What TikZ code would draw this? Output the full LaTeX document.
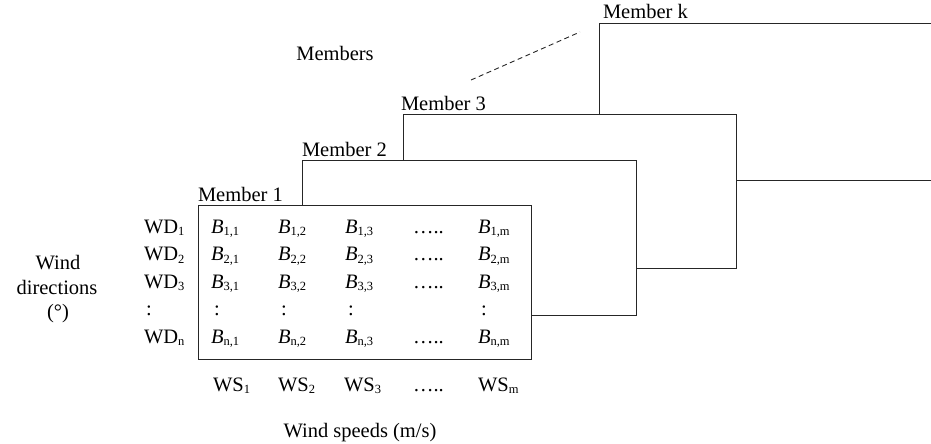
\documentclass[tikz,border=0pt]{standalone}
\usepackage{fontspec}
\setmainfont{Liberation Serif}
\newcommand\sbx[1]{\raisebox{-2.5pt}{\fontsize{12.5}{12.5}\selectfont #1}}
\newcommand\Bij[1]{\textit{B}\sbx{#1}}
\begin{document}
\begin{tikzpicture}[x=1pt,y=-1pt,
  every node/.style={font=\fontsize{20.5}{24.5}\selectfont, inner sep=0pt, outer sep=0pt},
  boxline/.style={draw=black!85, line width=0.9pt},
  memberbox/.style={boxline, fill=white, rectangle, anchor=north west, minimum width=333pt, minimum height=154pt},
  memberlabel/.style={anchor=base west},
  cell/.style={anchor=base west}]
\useasboundingbox (0,0) rectangle (931,444);
% Member k (open to the right)
\coordinate (mk) at (599,23);
\coordinate (mkbl) at (599,180);
\coordinate (mktr) at (931,23);
\coordinate (mkbr) at (931,180);
\draw[boxline] (mktr) -- (mk) -- (mkbl) -- (mkbr);
\node[memberlabel] (labk) at ([xshift=4pt,yshift=4pt]mk) {Member k};
% dashed ellipsis line
\coordinate (dsA) at (471,80);
\coordinate (dsB) at (580,32);
\draw[black!85, line width=0.9pt, dash pattern=on 5pt off 3.5pt] (dsA) -- (dsB);
\node[anchor=base] (members) at (335,60) {Members};
% Member boxes
\node[memberbox] (m3) at (403,114) {};
\node[memberlabel] (lab3) at ([xshift=-2pt,yshift=4pt]m3.north west) {Member 3};
\node[memberbox, minimum width=334pt, minimum height=155pt] (m2) at (302,160) {};
\node[memberlabel] (lab2) at ([yshift=4pt]m2.north west) {Member 2};
\node[memberbox, minimum height=154pt] (m1) at (198,205) {};
\node[memberlabel] (lab1) at ([yshift=4pt]m1.north west) {Member 1};
% row labels
\node[cell] (wd1) at (144,233) {WD\sbx{1}};
\node[cell] (wd2) at (144,260.5) {WD\sbx{2}};
\node[cell] (wd3) at (144,288) {WD\sbx{3}};
\node[cell] (wdc) at (146,315.5) {:};
\node[cell] (wdn) at (144,343) {WD\sbx{n}};
% matrix entries
\node[cell] (b11) at (211,233) {\Bij{1,1}};
\node[cell] (b12) at (278,233) {\Bij{1,2}};
\node[cell] (b13) at (345,233) {\Bij{1,3}};
\node[cell] (b1d) at (413,233) {\ldots..};
\node[cell] (b1m) at (478,233) {\Bij{1,m}};
\node[cell] (b21) at (211,260.5) {\Bij{2,1}};
\node[cell] (b22) at (278,260.5) {\Bij{2,2}};
\node[cell] (b23) at (345,260.5) {\Bij{2,3}};
\node[cell] (b2d) at (413,260.5) {\ldots..};
\node[cell] (b2m) at (478,260.5) {\Bij{2,m}};
\node[cell] (b31) at (211,288) {\Bij{3,1}};
\node[cell] (b32) at (278,288) {\Bij{3,2}};
\node[cell] (b33) at (345,288) {\Bij{3,3}};
\node[cell] (b3d) at (413,288) {\ldots..};
\node[cell] (b3m) at (478,288) {\Bij{3,m}};
\node[cell] (bc1) at (214,315.5) {:};
\node[cell] (bc2) at (281,315.5) {:};
\node[cell] (bc3) at (348,315.5) {:};
\node[cell] (bcm) at (481,315.5) {:};
\node[cell] (bn1) at (211,343) {\Bij{n,1}};
\node[cell] (bn2) at (278,343) {\Bij{n,2}};
\node[cell] (bn3) at (345,343) {\Bij{n,3}};
\node[cell] (bnd) at (413,343) {\ldots..};
\node[cell] (bnm) at (478,343) {\Bij{n,m}};
% wind speeds
\node[cell] (ws1) at (213,391) {WS\sbx{1}};
\node[cell] (ws2) at (278,391) {WS\sbx{2}};
\node[cell] (ws3) at (344,391) {WS\sbx{3}};
\node[cell] (wsd) at (413,391) {\ldots..};
\node[cell] (wsm) at (478,391) {WS\sbx{m}};
\node[anchor=base] (wslab) at (360,437) {Wind speeds (m/s)};
% wind directions
\node[anchor=base] (wdl1) at (58,269) {Wind};
\node[anchor=base] (wdl2) at (57,294) {directions};
\node[anchor=base] (wdl3) at (58,318) {(°)};
\end{tikzpicture}
\end{document}
